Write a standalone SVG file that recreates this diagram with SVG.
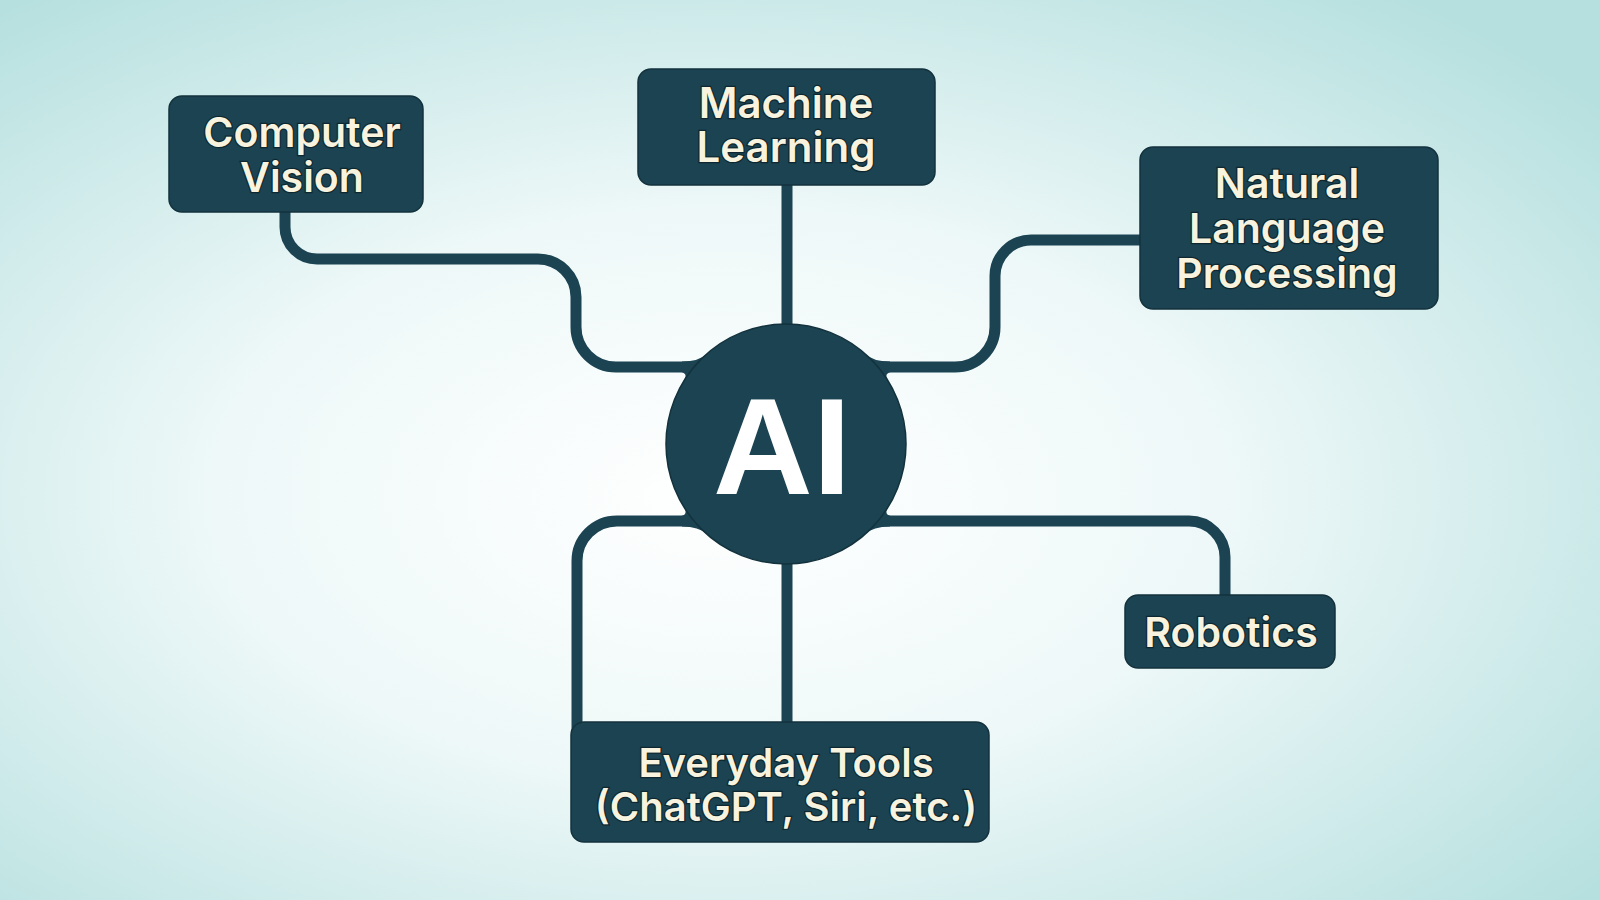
<svg xmlns="http://www.w3.org/2000/svg" width="1600" height="900" viewBox="0 0 1600 900">
<defs>
<radialGradient id="bg" cx="0.45" cy="0.55" r="0.7" fx="0.45" fy="0.55">
<stop offset="0" stop-color="#ffffff"/>
<stop offset="0.45" stop-color="#eef8f8"/>
<stop offset="1" stop-color="#b6e0df"/>
</radialGradient>
<path id="fillet" d="M682,361.5 Q699,361.5 706.6,354 L720,372 L682,372 Z M676,371.5 Q689,371.5 684.4,380 L700,380 L700,371.5 Z" fill="#1b4352"/>
<style>
.box{fill:#1b4352;stroke:#13323d;stroke-width:1.5}
.con{fill:none;stroke:#1b4352;stroke-width:11;stroke-linejoin:round}
.lbl{font-family:Inter,"Noto Sans",sans-serif;font-weight:600;fill:#f7f3de;stroke:#0e2730;stroke-width:2.5;paint-order:stroke;text-anchor:middle}
.ai{font-family:"Liberation Sans",Arial,sans-serif;font-weight:700;fill:#ffffff;text-anchor:middle}
</style>
</defs>
<rect width="1600" height="900" fill="url(#bg)"/>
<g id="connectors">
<path class="con" d="M285,212 V227 A32,32 0 0 0 317,259 H538 A38,38 0 0 1 576,297 V327 A40,40 0 0 0 616,367 H730"/>
<path class="con" d="M787,185 V340"/>
<path class="con" d="M1140,240 H1031 A36,36 0 0 0 995,276 V327 A40,40 0 0 1 955,367 H840"/>
<path class="con" d="M840,521 H1189 A36,36 0 0 1 1225,557 V596"/>
<path class="con" d="M787,550 V724"/>
<path class="con" d="M730,521 H617 A40,40 0 0 0 577,561 V740"/>
<use href="#fillet"/>
<use href="#fillet" transform="translate(1572,0) scale(-1,1)"/>
<use href="#fillet" transform="translate(0,888) scale(1,-1)"/>
<use href="#fillet" transform="translate(1572,888) scale(-1,-1)"/>
</g>
<g id="ai">
<circle cx="786" cy="444" r="120" fill="#1b4352" stroke="#13323d" stroke-width="1.5"/>
<text class="ai" x="782" y="494" font-size="138">AI</text>
</g>
<g id="computer-vision">
<rect class="box" x="169" y="96" width="254" height="116" rx="13"/>
<text class="lbl" font-size="41"><tspan x="302" y="147">Computer</tspan><tspan x="302" y="192">Vision</tspan></text>
</g>
<g id="machine-learning">
<rect class="box" x="638" y="69" width="297" height="116" rx="13"/>
<text class="lbl" font-size="42"><tspan x="786" y="118">Machine</tspan><tspan x="786" y="162">Learning</tspan></text>
</g>
<g id="nlp">
<rect class="box" x="1140" y="147" width="298" height="162" rx="13"/>
<text class="lbl" font-size="41"><tspan x="1287" y="198">Natural</tspan><tspan x="1287" y="243">Language</tspan><tspan x="1287" y="288">Processing</tspan></text>
</g>
<g id="robotics">
<rect class="box" x="1125" y="595" width="210" height="73" rx="13"/>
<text class="lbl" font-size="41" x="1231" y="647">Robotics</text>
</g>
<g id="everyday-tools">
<rect class="box" x="571" y="722" width="418" height="120" rx="13"/>
<text class="lbl" font-size="40"><tspan x="786" y="777">Everyday Tools</tspan><tspan x="786" y="821">(ChatGPT, Siri, etc.)</tspan></text>
</g>
</svg>
